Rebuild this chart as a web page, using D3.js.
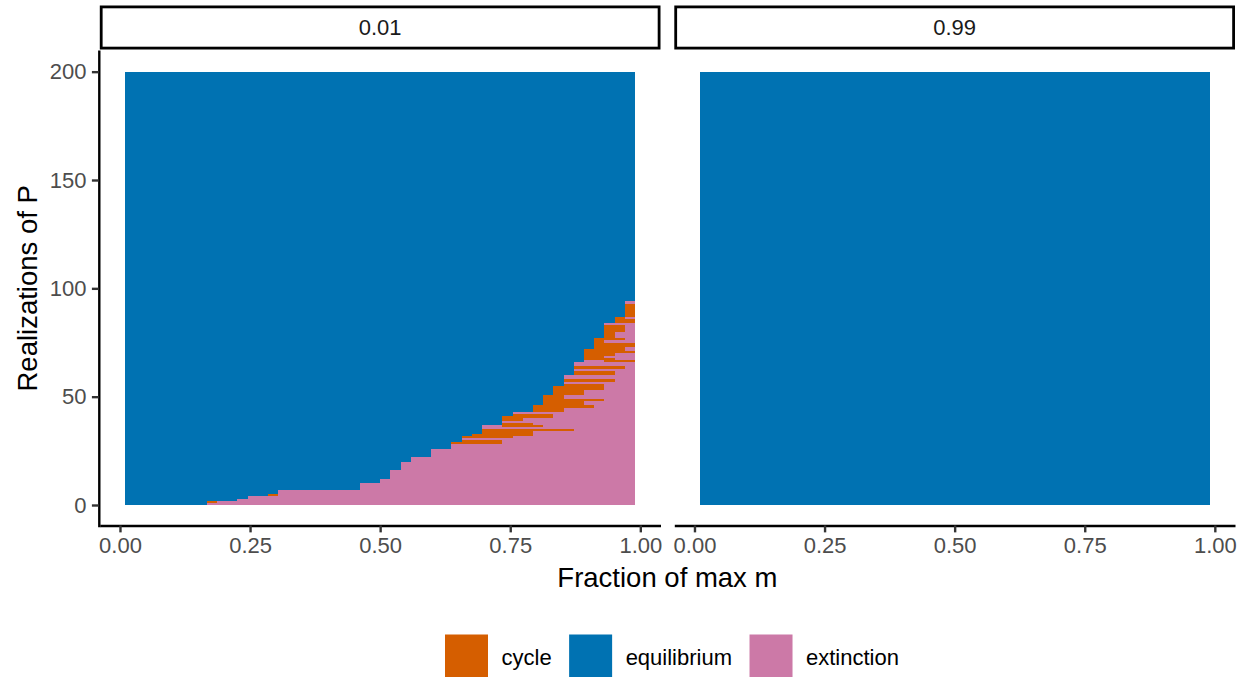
<!DOCTYPE html>
<html>
<head>
<meta charset="utf-8">
<script src="https://cdn.jsdelivr.net/npm/d3@7"></script>
<style>
  html, body { margin: 0; padding: 0; background: #fff; }
  svg { display: block; font-family: "Liberation Sans", Arial, Helvetica, sans-serif; }
</style>
</head>
<body>
<svg id="chart" width="1246" height="677"></svg>
<script>
// Fraction of max m at which each realization was run (column centres)
const fractions = [
  0.0200, 0.0396, 0.0592, 0.0788, 0.0984, 0.1180, 0.1376, 0.1571, 0.1767, 0.1963,
  0.2159, 0.2355, 0.2551, 0.2747, 0.2943, 0.3139, 0.3335, 0.3531, 0.3727, 0.3922,
  0.4118, 0.4314, 0.4510, 0.4706, 0.4902, 0.5098, 0.5294, 0.5490, 0.5686, 0.5882,
  0.6078, 0.6273, 0.6469, 0.6665, 0.6861, 0.7057, 0.7253, 0.7449, 0.7645, 0.7841,
  0.8037, 0.8233, 0.8429, 0.8624, 0.8820, 0.9016, 0.9212, 0.9408, 0.9604, 0.9800
];
const realizationCount = 200;

// Facet labels
const panels = ["0.01", "0.99"];

// Outcome categories and their fills
const outcomes = ["cycle", "equilibrium", "extinction"];
const outcomeColors = ["#D55E00", "#0072B2", "#CC79A7"];

// Panel "0.01": column index (into fractions) at which realizations 1..94 leave
// equilibrium; from there on the outcome is extinction unless listed as a cycle run.
const onsetLow = [
  8, 8, 11, 12, 14, 15, 15, 23, 23, 23,
  25, 25, 26, 26, 26, 26, 27, 27, 27, 27,
  28, 28, 30, 30, 30, 30, 32, 32, 32, 33,
  33, 33, 34, 35, 35, 35, 35, 37, 37, 37,
  37, 38, 38, 40, 40, 40, 41, 41, 41, 41,
  41, 42, 42, 42, 42, 43, 43, 43, 43, 43,
  44, 44, 44, 44, 44, 44, 45, 45, 45, 45,
  45, 45, 46, 46, 46, 46, 46, 47, 47, 47,
  47, 47, 47, 47, 48, 48, 48, 49, 49, 49,
  49, 49, 49, 49
];
// Panel "0.01": cycle runs as [realization, first column, last column]
const cycleLow = [
  [2, 8, 8], [5, 14, 14],
  [29, 32, 36], [30, 33, 36], [32, 33, 37], [33, 34, 39], [34, 35, 39], [35, 35, 43],
  [37, 37, 40], [38, 37, 39], [40, 37, 38], [41, 37, 41], [42, 38, 41],
  [44, 40, 42], [45, 40, 42], [46, 40, 45], [47, 41, 44], [48, 41, 44], [49, 41, 46],
  [50, 41, 42], [51, 41, 42],
  [52, 42, 44], [53, 42, 44], [54, 42, 46], [55, 42, 46], [56, 43, 46], [58, 43, 47],
  [61, 44, 47], [62, 44, 47], [64, 44, 48],
  [67, 47, 49], [68, 45, 47], [69, 45, 46], [70, 45, 47], [71, 45, 49], [72, 45, 48],
  [73, 46, 48], [74, 46, 49], [75, 46, 49], [76, 46, 46], [77, 46, 48],
  [78, 47, 47], [79, 47, 47], [80, 47, 47], [81, 47, 48], [82, 47, 48], [83, 47, 48],
  [85, 48, 49], [86, 48, 49], [87, 48, 48],
  [88, 49, 49], [89, 49, 49], [90, 49, 49], [91, 49, 49], [92, 49, 49], [93, 49, 49]
];
// Panel "0.99": every realization stays in equilibrium
const onsetHigh = [];
const cycleHigh = [];

const xTicks = [0, 0.25, 0.5, 0.75, 1];
const yTicks = [0, 50, 100, 150, 200];
const xTitle = "Fraction of max m";
const yTitle = "Realizations of P";

// ---------------------------------------------------------------------------
const svg = d3.select("#chart");
const FONT = '"Liberation Sans", Arial, Helvetica, sans-serif';
const color = d3.scaleOrdinal().domain(outcomes).range(outcomeColors);

const panelX = [[99.8, 660.5], [674.3, 1235.0]];
const panelTop = 50.0, panelBottom = 526.67;
const stripTop = 5.5, stripBottom = 49.5;

const step = fractions[1] - fractions[0];
const half = step / 2;
const lo = fractions[0] - half, hi = fractions[fractions.length - 1] + half;
const padX = (hi - lo) * 0.05;
const padY = realizationCount * 0.05;

const y = d3.scaleLinear()
  .domain([-padY, realizationCount + padY])
  .range([panelBottom, panelTop]);

// Expand onset + cycle runs into a full outcome grid, then merge into row runs
function buildRuns(onset, cycles) {
  const grid = d3.range(realizationCount).map(r =>
    fractions.map((f, c) => (r < onset.length && c >= onset[r]) ? "extinction" : "equilibrium"));
  cycles.forEach(([r, c0, c1]) => { for (let c = c0; c <= c1; c++) grid[r - 1][c] = "cycle"; });
  const runs = [];
  grid.forEach((row, r) => {
    let start = 0;
    for (let c = 1; c <= row.length; c++) {
      if (c === row.length || row[c] !== row[start]) {
        runs.push({ r, c0: start, c1: c - 1, outcome: row[start] });
        start = c;
      }
    }
  });
  return runs;
}

const panelData = [buildRuns(onsetLow, cycleLow), buildRuns(onsetHigh, cycleHigh)];

panels.forEach((label, i) => {
  const [px0, px1] = panelX[i];
  const x = d3.scaleLinear().domain([lo - padX, hi + padX]).range([px0, px1]);

  // tiles
  svg.append("g")
    .attr("shape-rendering", "crispEdges")
    .selectAll("rect")
    .data(panelData[i])
    .join("rect")
    .attr("x", d => x(fractions[d.c0] - half))
    .attr("width", d => x(fractions[d.c1] + half) - x(fractions[d.c0] - half))
    .attr("y", d => y(d.r + 1))
    .attr("height", d => y(d.r) - y(d.r + 1))
    .attr("fill", d => color(d.outcome));

  // strip
  const sw = 2.8;
  svg.append("rect")
    .attr("x", px0 + sw / 2).attr("y", stripTop + sw / 2)
    .attr("width", px1 - px0 - sw).attr("height", stripBottom - stripTop - sw)
    .attr("fill", "#fff").attr("stroke", "#000").attr("stroke-width", sw);
  svg.append("text")
    .attr("x", (px0 + px1) / 2).attr("y", (stripTop + stripBottom) / 2 + 7.7)
    .attr("text-anchor", "middle")
    .attr("font-family", FONT).attr("font-size", 22).attr("fill", "#1A1A1A")
    .text(label);

  // bottom axis
  const gx = svg.append("g")
    .attr("transform", `translate(0,${panelBottom - 1.2})`)
    .call(d3.axisBottom(x).tickValues(xTicks).tickFormat(d3.format(".2f"))
      .tickSize(6.9).tickSizeOuter(0).tickPadding(5.5));
  gx.attr("font-family", FONT).attr("font-size", 22);
  gx.select(".domain").attr("stroke", "#000").attr("stroke-width", 2.4);
  gx.selectAll(".tick line").attr("stroke", "#333333").attr("stroke-width", 2.4);
  gx.selectAll(".tick text").attr("fill", "#4D4D4D");

  // left axis only on the first panel
  if (i === 0) {
    const gy = svg.append("g")
      .attr("transform", `translate(${px0 - 1},0)`)
      .call(d3.axisLeft(y).tickValues(yTicks)
        .tickSize(6.9).tickSizeOuter(0).tickPadding(5.5));
    gy.attr("font-family", FONT).attr("font-size", 22);
    gy.select(".domain").attr("stroke", "#000").attr("stroke-width", 2.4);
    gy.selectAll(".tick line").attr("stroke", "#333333").attr("stroke-width", 2.4);
    gy.selectAll(".tick text").attr("fill", "#4D4D4D");
  }
});

// axis titles
svg.append("text")
  .attr("x", (panelX[0][0] + panelX[1][1]) / 2).attr("y", 587)
  .attr("text-anchor", "middle")
  .attr("font-family", FONT).attr("font-size", 27.5).attr("fill", "#000")
  .text(xTitle);
svg.append("text")
  .attr("transform", `translate(37,${(panelTop + panelBottom) / 2}) rotate(-90)`)
  .attr("text-anchor", "middle")
  .attr("font-family", FONT).attr("font-size", 27.5).attr("fill", "#000")
  .text(yTitle);

// legend
const legend = svg.append("g");
let cursor = 445;
outcomes.forEach(o => {
  legend.append("rect")
    .attr("x", cursor).attr("y", 634.5).attr("width", 43).attr("height", 43)
    .attr("fill", color(o));
  cursor += 43 + 13.5;
  const t = legend.append("text")
    .attr("x", cursor).attr("y", 664.5)
    .attr("font-family", FONT).attr("font-size", 22).attr("fill", "#000")
    .text(o);
  cursor += t.node().getComputedTextLength() + 17.5;
});
</script>
</body>
</html>
